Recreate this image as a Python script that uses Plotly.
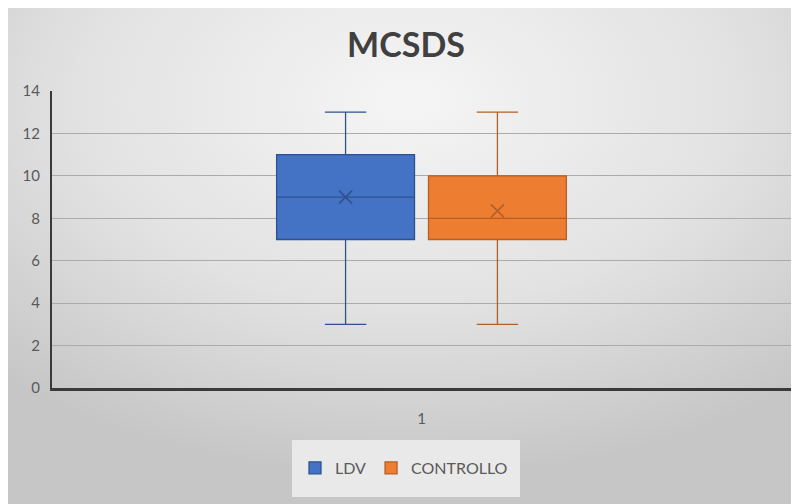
import base64
import plotly.graph_objects as go

# ---- data ----
categories = ["1"]
series_names = ["LDV", "CONTROLLO"]
lower_whisker = [3, 3]
q1_values = [7, 7]
median_values = [9, 8]
q3_values = [11, 10]
upper_whisker = [13, 13]
mean_values = [9.0, 8.35]
y_ticks = [0, 2, 4, 6, 8, 10, 12, 14]

fill_colors = ["#4472C4", "#ED7D31"]
line_colors = ["#2F528F", "#B55F26"]

fig = go.Figure()
for i, name in enumerate(series_names):
    fig.add_trace(go.Box(
        name=name, x=categories,
        q1=[q1_values[i]], median=[median_values[i]], q3=[q3_values[i]],
        lowerfence=[lower_whisker[i]], upperfence=[upper_whisker[i]],
        fillcolor=fill_colors[i], line=dict(color=line_colors[i], width=1.3),
        whiskerwidth=0.3, boxpoints=False, hoverinfo="skip", offsetgroup=str(i),
    ))
for i, name in enumerate(series_names):
    fig.add_trace(go.Scatter(
        x=categories, y=[mean_values[i]], mode="markers", showlegend=False,
        offsetgroup=str(i), hoverinfo="skip",
        marker=dict(symbol="x-thin", size=13, line=dict(width=1.6, color=line_colors[i])),
    ))

W, H = 799, 504
svg = ('<svg xmlns="http://www.w3.org/2000/svg" width="799" height="504">'
       '<defs><radialGradient id="g" cx="50%" cy="18%" r="75%" fx="50%" fy="18%">'
       '<stop offset="0%" stop-color="#f5f5f5"/><stop offset="55%" stop-color="#e2e2e2"/>'
       '<stop offset="100%" stop-color="#c6c6c6"/></radialGradient></defs>'
       '<rect width="799" height="504" fill="url(#g)"/></svg>')
uri = "data:image/svg+xml;base64," + base64.b64encode(svg.encode()).decode()

L, R, T, B = 44, 16, 83, 124
pw, ph = W - L - R, H - T - B

fig.update_layout(
    width=W, height=H,
    margin=dict(l=L, r=R, t=T, b=B),
    paper_bgcolor="#d9d9d9", plot_bgcolor="rgba(0,0,0,0)",
    boxmode="group", boxgap=0.589, boxgroupgap=0.092,
    scattermode="group", scattergap=0.589,
    title=dict(text="<b>MCSDS</b>", x=(398 - L) / pw, xref="paper", xanchor="center",
               y=1 - 37 / H, yanchor="middle",
               font=dict(family="Lato", size=34, color="#404040")),
    font=dict(family="Lato", color="#595959", size=15),
    xaxis=dict(type="category", showgrid=False, showline=True, linecolor="#3a3a3a",
               linewidth=3, ticks="", ticklabelstandoff=15, tickfont=dict(size=15, color="#595959"),
               fixedrange=True),
    yaxis=dict(range=[0, 14], tickvals=y_ticks, showgrid=True, gridcolor="#ababab",
               gridwidth=1, showline=True, linecolor="#3a3a3a", linewidth=2,
               ticks="", ticklabelstandoff=7, zeroline=False, tickfont=dict(size=15, color="#595959")),
    legend=dict(orientation="h", x=(396 - L) / pw, xanchor="center", y=(380 - 460) / ph,
                yanchor="middle", bgcolor="rgba(0,0,0,0)", font=dict(size=16, color="#595959"),
                itemwidth=30),
    images=[dict(source=uri, xref="paper", yref="paper", x=-L / pw, y=1 + T / ph,
                 sizex=W / pw, sizey=H / ph, sizing="stretch", layer="below",
                 xanchor="left", yanchor="top")],
    shapes=[dict(type="rect", xref="paper", yref="paper", x0=(284 - L) / pw, x1=(512 - L) / pw,
                 y0=(380 - 489) / ph, y1=(380 - 432) / ph, fillcolor="#e9e9e9",
                 line=dict(width=0), layer="below")],
)

fig.write_html("out.html")
